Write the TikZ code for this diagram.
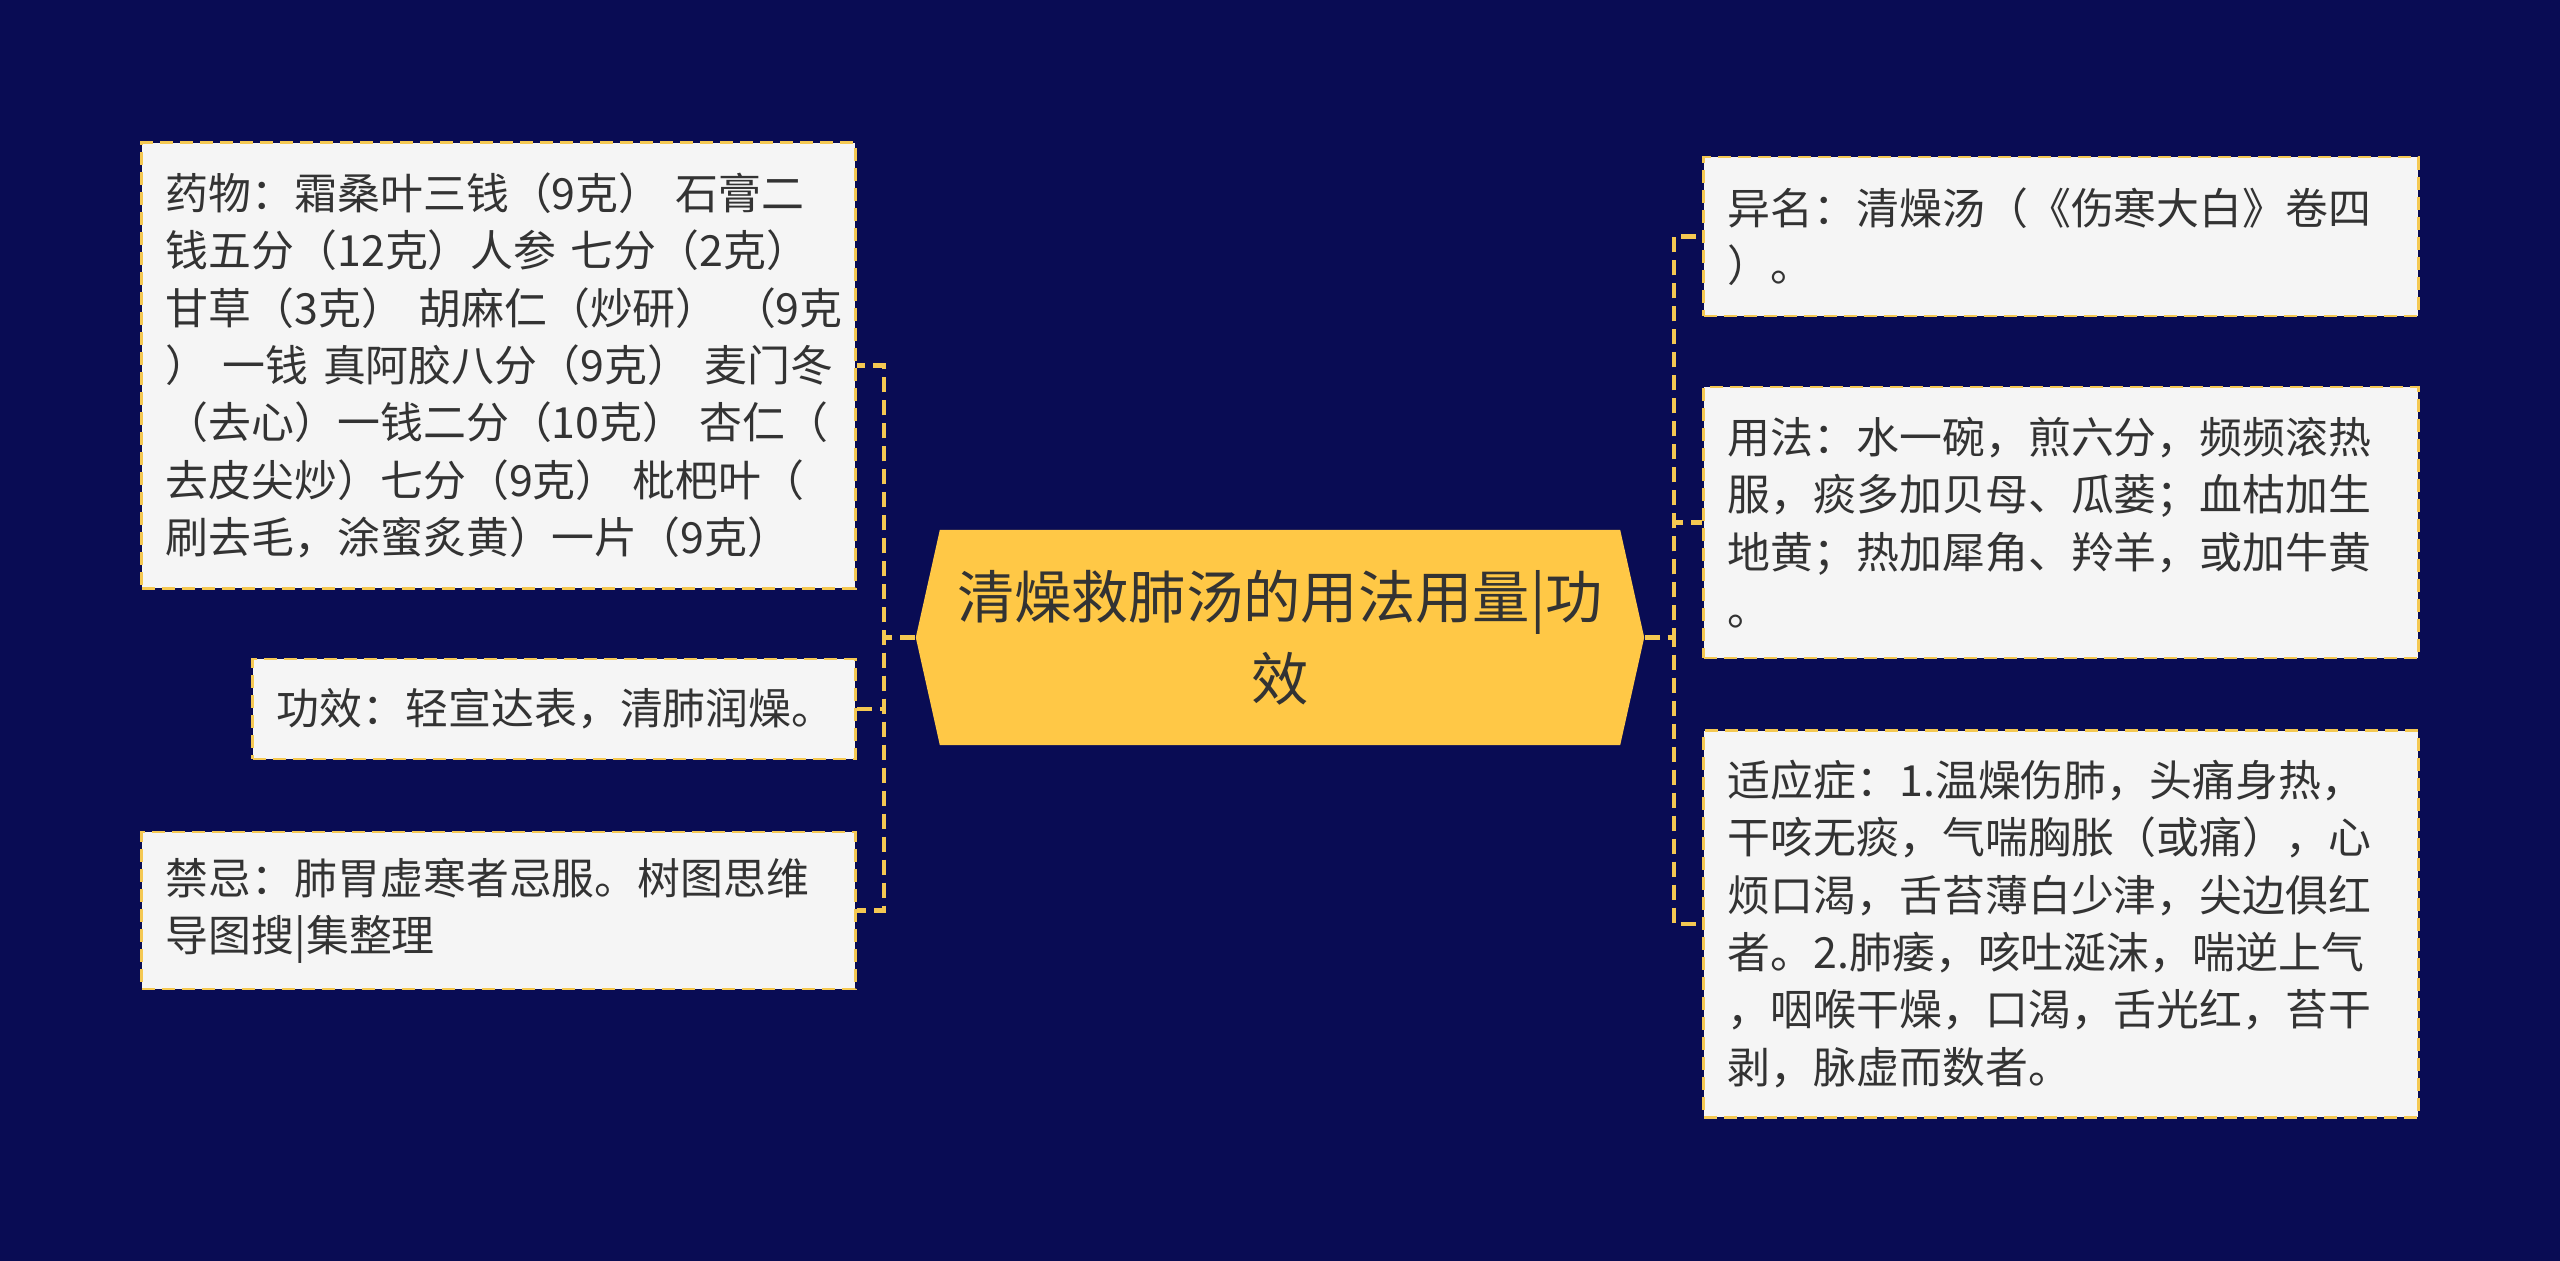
\documentclass[tikz,border=0pt]{standalone}
\usepackage{fontspec}
\setmainfont{Noto Sans CJK SC}
\usepackage{xcolor}
\usepackage{tikz}
\definecolor{bgnavy}{RGB}{9,12,84}
\definecolor{hubyellow}{RGB}{255,200,70}
\definecolor{dashyellow}{RGB}{244,200,82}
\definecolor{boxgray}{RGB}{245,245,245}
\definecolor{textdark}{RGB}{51,51,51}

\begin{document}
\begin{tikzpicture}[
    x=0.01cm, y=-0.01cm,
    leaf/.style={draw=dashyellow, line width=0.8pt, dash pattern=on 0.13cm off 0.07cm, fill=boxgray,
        align=left, inner xsep=0.24cm, inner ysep=0.08cm, text=textdark,
        font=\fontsize{12.2pt}{16.3pt}\selectfont},
    hub/.style={minimum width=7.28cm, minimum height=2.15cm, inner sep=0pt, text width=6.8cm,
        align=center, text=textdark, font=\fontsize{16.3pt}{23.3pt}\selectfont,
        path picture={\fill[hubyellow] (path picture bounding box.west)
            -- ([xshift=0.24cm]path picture bounding box.north west)
            -- ([xshift=-0.24cm]path picture bounding box.north east)
            -- (path picture bounding box.east)
            -- ([xshift=-0.24cm]path picture bounding box.south east)
            -- ([xshift=0.24cm]path picture bounding box.south west) -- cycle;}},
    link/.style={draw=dashyellow, line width=1.2pt, dash pattern=on 0.15cm off 0.08cm}
]

% background and page size
\fill[bgnavy] (0,0) rectangle (2560,1261);

% --- centre ---
\node[hub] (hub) at (1280,637.5) {清燥救肺汤的用法用量|功\\效};

% --- left branch ---
\node[leaf, text width=6.65cm, minimum height=4.45cm] (drug) at (498.5,365.5)
    {药物：霜桑叶三钱（9克）~石膏二\\钱五分（12克）人参~七分（2克）\\甘草（3克）~胡麻仁（炒研）~（9克\\）~一钱~真阿胶八分（9克）~麦门冬\\（去心）一钱二分（10克）~杏仁（\\去皮尖炒）七分（9克）~枇杷叶（\\刷去毛，涂蜜炙黄）一片（9克）};
\node[leaf, text width=5.54cm, minimum height=1.00cm] (effect) at (554,709)
    {功效：轻宣达表，清肺润燥。};
\node[leaf, text width=6.65cm, minimum height=1.57cm] (taboo) at (498.5,910.5)
    {禁忌：肺胃虚寒者忌服。树图思维\\导图搜|集整理};

% --- right branch ---
\node[leaf, text width=6.66cm, minimum height=1.59cm] (alias) at (2061,236.5)
    {异名：清燥汤（《伤寒大白》卷四\\）。};
\node[leaf, text width=6.66cm, minimum height=2.71cm] (usage) at (2061,522.5)
    {用法：水一碗，煎六分，频频滚热\\服，痰多加贝母、瓜蒌；血枯加生\\地黄；热加犀角、羚羊，或加牛黄\\。};
\node[leaf, text width=6.66cm, minimum height=3.86cm] (indic) at (2061,924)
    {适应症：1.温燥伤肺，头痛身热，\\干咳无痰，气喘胸胀（或痛），心\\烦口渴，舌苔薄白少津，尖边俱红\\者。2.肺痿，咳吐涎沫，喘逆上气\\，咽喉干燥，口渴，舌光红，苔干\\剥，脉虚而数者。};

% connectors
\draw[link] (hub.west) -- ++(-31,0) |- (drug.east);
\draw[link] (hub.west) -- ++(-31,0) |- (effect.east);
\draw[link] (hub.west) -- ++(-31,0) |- (taboo.east);
\draw[link] (hub.east) -- ++(29,0) |- (alias.west);
\draw[link] (hub.east) -- ++(29,0) |- (usage.west);
\draw[link] (hub.east) -- ++(29,0) |- (indic.west);

\end{tikzpicture}
\end{document}
